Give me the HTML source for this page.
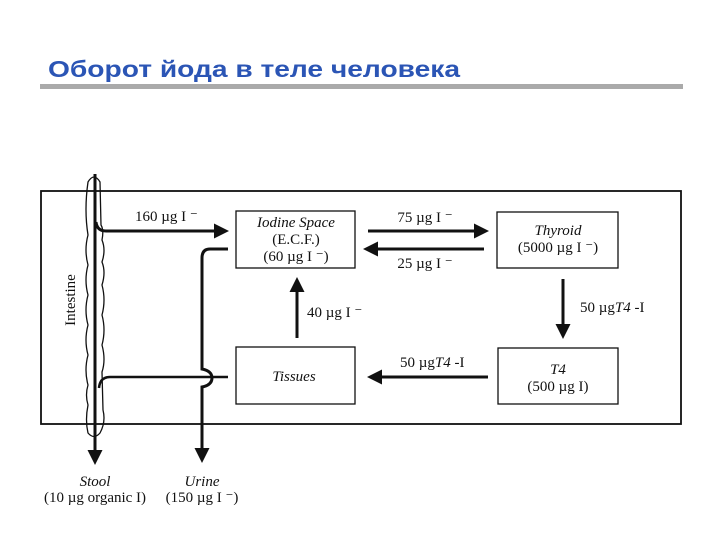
<!DOCTYPE html>
<html><head><meta charset="utf-8"><style>
body{margin:0;background:#fff;width:720px;height:540px;overflow:hidden}
svg{display:block}
.t{font-family:"Liberation Serif",serif;font-size:15px;fill:#111}
.i{font-style:italic}
</style></head><body>
<svg width="720" height="540" viewBox="0 0 720 540" xmlns="http://www.w3.org/2000/svg">
<defs><marker id="a" markerWidth="5" markerHeight="5" refX="4" refY="2.5" orient="auto" markerUnits="strokeWidth"><path d="M0,0 L5,2.5 L0,5 z" fill="#111"/></marker></defs>
<text x="48" y="77" font-family="Liberation Sans,sans-serif" font-weight="bold" font-size="23" fill="#2b55b5" textLength="412" lengthAdjust="spacingAndGlyphs">Оборот йода в теле человека</text>
<rect x="40" y="84" width="643" height="5" fill="#aaaaaa"/>
<rect x="41" y="191" width="640" height="233" fill="none" stroke="#111" stroke-width="1.8"/>
<g fill="none" stroke="#111" stroke-width="1.3">
<rect x="236" y="211" width="119" height="57"/>
<rect x="497" y="212" width="121" height="56"/>
<rect x="498" y="348" width="120" height="56"/>
<rect x="236" y="347" width="119" height="57"/>
<path d="M88,182 Q94,172 100,182 L101,225 Q104,230 102,240 Q106,250 102,262 Q106,272 102,285 Q106,300 102,315 Q106,330 102,345 Q106,360 102,372 L103,410 Q106,422 100,433 Q94,440 88,433 Q85,420 88,405 Q85,395 88,385 Q84,370 88,355 Q84,340 88,325 Q84,310 88,295 Q84,280 88,265 Q84,250 88,235 Q84,210 88,182 z"/>
</g>
<g fill="none" stroke="#111" stroke-width="3">
<path d="M95,174 L95,462" marker-end="url(#a)"/>
<path d="M96,222 Q97,231 106,231 L226,231" marker-end="url(#a)"/>
<path d="M368,231 L486,231" marker-end="url(#a)"/>
<path d="M484,249 L366,249" marker-end="url(#a)"/>
<path d="M563,279 L563,336" marker-end="url(#a)"/>
<path d="M488,377 L370,377" marker-end="url(#a)"/>
<path d="M297,338 L297,280" marker-end="url(#a)"/>
<path d="M228,249 L210,249 Q202,249 202,258 L202,369 Q212,371 212,378 Q212,385 202,387 L202,460" marker-end="url(#a)"/>
<path d="M228,377 L110,377 Q100,377 99,388" stroke-width="2.5"/>
</g>
<text class="t" x="135" y="221">160 µg I ⁻</text>
<text class="t i" x="296" y="227" text-anchor="middle">Iodine Space</text>
<text class="t" x="296" y="244" text-anchor="middle">(E.C.F.)</text>
<text class="t" x="296" y="261" text-anchor="middle">(60 µg I ⁻)</text>
<text class="t" x="425" y="222" text-anchor="middle">75 µg I ⁻</text>
<text class="t" x="425" y="268" text-anchor="middle">25 µg I ⁻</text>
<text class="t i" x="558" y="235" text-anchor="middle">Thyroid</text>
<text class="t" x="558" y="252" text-anchor="middle">(5000 µg I ⁻)</text>
<text class="t" x="580" y="312">50 µg<tspan class="i">T4</tspan> -I</text>
<text class="t" x="307" y="317">40 µg I ⁻</text>
<text class="t" x="400" y="367">50 µg<tspan class="i">T4</tspan> -I</text>
<text class="t i" x="558" y="374" text-anchor="middle">T4</text>
<text class="t" x="558" y="391" text-anchor="middle">(500 µg I)</text>
<text class="t i" x="294" y="381" text-anchor="middle">Tissues</text>
<text class="t" transform="translate(75,300) rotate(-90)" text-anchor="middle">Intestine</text>
<text class="t i" x="95" y="486" text-anchor="middle">Stool</text>
<text class="t" x="95" y="502" text-anchor="middle">(10 µg organic I)</text>
<text class="t i" x="202" y="486" text-anchor="middle">Urine</text>
<text class="t" x="202" y="502" text-anchor="middle">(150 µg I ⁻)</text>
</svg>
</body></html>
